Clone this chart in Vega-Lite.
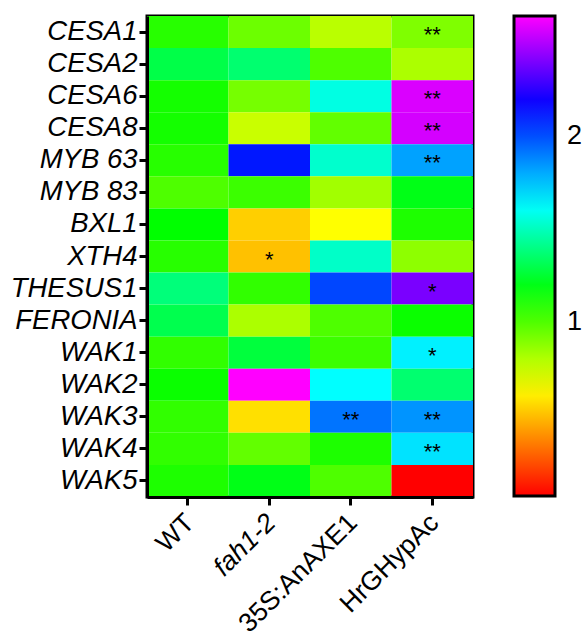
{
  "$schema": "https://vega.github.io/schema/vega-lite/v6.json",
  "width": 326,
  "height": 481,
  "padding": {"left": 10, "top": 15, "right": 0, "bottom": 0},
  "config": {
    "view": {"stroke": "black", "strokeWidth": 3},
    "font": "Liberation Sans"
  },
  "data": {
    "values": [
      {"gene": "CESA1", "line": "WT", "value": 1.08, "sig": ""},
      {"gene": "CESA2", "line": "WT", "value": 1.29, "sig": ""},
      {"gene": "CESA6", "line": "WT", "value": 1.12, "sig": ""},
      {"gene": "CESA8", "line": "WT", "value": 1.12, "sig": ""},
      {"gene": "MYB 63", "line": "WT", "value": 1.08, "sig": ""},
      {"gene": "MYB 83", "line": "WT", "value": 1.0, "sig": ""},
      {"gene": "BXL1", "line": "WT", "value": 1.16, "sig": ""},
      {"gene": "XTH4", "line": "WT", "value": 1.08, "sig": ""},
      {"gene": "THESUS1", "line": "WT", "value": 1.38, "sig": ""},
      {"gene": "FERONIA", "line": "WT", "value": 1.3, "sig": ""},
      {"gene": "WAK1", "line": "WT", "value": 1.06, "sig": ""},
      {"gene": "WAK2", "line": "WT", "value": 1.14, "sig": ""},
      {"gene": "WAK3", "line": "WT", "value": 1.06, "sig": ""},
      {"gene": "WAK4", "line": "WT", "value": 1.06, "sig": ""},
      {"gene": "WAK5", "line": "WT", "value": 1.1, "sig": ""},
      {"gene": "CESA1", "line": "fah1-2", "value": 0.94, "sig": ""},
      {"gene": "CESA2", "line": "fah1-2", "value": 1.36, "sig": ""},
      {"gene": "CESA6", "line": "fah1-2", "value": 0.92, "sig": ""},
      {"gene": "CESA8", "line": "fah1-2", "value": 0.75, "sig": ""},
      {"gene": "MYB 63", "line": "fah1-2", "value": 2.12, "sig": ""},
      {"gene": "MYB 83", "line": "fah1-2", "value": 1.04, "sig": ""},
      {"gene": "BXL1", "line": "fah1-2", "value": 0.53, "sig": ""},
      {"gene": "XTH4", "line": "fah1-2", "value": 0.5, "sig": "*"},
      {"gene": "THESUS1", "line": "fah1-2", "value": 1.06, "sig": ""},
      {"gene": "FERONIA", "line": "fah1-2", "value": 0.81, "sig": ""},
      {"gene": "WAK1", "line": "fah1-2", "value": 1.27, "sig": ""},
      {"gene": "WAK2", "line": "fah1-2", "value": 2.65, "sig": ""},
      {"gene": "WAK3", "line": "fah1-2", "value": 0.57, "sig": ""},
      {"gene": "WAK4", "line": "fah1-2", "value": 0.96, "sig": ""},
      {"gene": "WAK5", "line": "fah1-2", "value": 1.2, "sig": ""},
      {"gene": "CESA1", "line": "35S:AnAXE1", "value": 0.78, "sig": ""},
      {"gene": "CESA2", "line": "35S:AnAXE1", "value": 1.0, "sig": ""},
      {"gene": "CESA6", "line": "35S:AnAXE1", "value": 1.57, "sig": ""},
      {"gene": "CESA8", "line": "35S:AnAXE1", "value": 0.96, "sig": ""},
      {"gene": "MYB 63", "line": "35S:AnAXE1", "value": 1.53, "sig": ""},
      {"gene": "MYB 83", "line": "35S:AnAXE1", "value": 0.83, "sig": ""},
      {"gene": "BXL1", "line": "35S:AnAXE1", "value": 0.64, "sig": ""},
      {"gene": "XTH4", "line": "35S:AnAXE1", "value": 1.52, "sig": ""},
      {"gene": "THESUS1", "line": "35S:AnAXE1", "value": 2.02, "sig": ""},
      {"gene": "FERONIA", "line": "35S:AnAXE1", "value": 1.0, "sig": ""},
      {"gene": "WAK1", "line": "35S:AnAXE1", "value": 1.04, "sig": ""},
      {"gene": "WAK2", "line": "35S:AnAXE1", "value": 1.62, "sig": ""},
      {"gene": "WAK3", "line": "35S:AnAXE1", "value": 1.92, "sig": "**"},
      {"gene": "WAK4", "line": "35S:AnAXE1", "value": 1.1, "sig": ""},
      {"gene": "WAK5", "line": "35S:AnAXE1", "value": 1.0, "sig": ""},
      {"gene": "CESA1", "line": "HrGHypAc", "value": 0.9, "sig": "**"},
      {"gene": "CESA2", "line": "HrGHypAc", "value": 0.81, "sig": ""},
      {"gene": "CESA6", "line": "HrGHypAc", "value": 2.58, "sig": "**"},
      {"gene": "CESA8", "line": "HrGHypAc", "value": 2.57, "sig": "**"},
      {"gene": "MYB 63", "line": "HrGHypAc", "value": 1.82, "sig": "**"},
      {"gene": "MYB 83", "line": "HrGHypAc", "value": 1.2, "sig": ""},
      {"gene": "BXL1", "line": "HrGHypAc", "value": 1.1, "sig": ""},
      {"gene": "XTH4", "line": "HrGHypAc", "value": 0.87, "sig": ""},
      {"gene": "THESUS1", "line": "HrGHypAc", "value": 2.4, "sig": "*"},
      {"gene": "FERONIA", "line": "HrGHypAc", "value": 1.14, "sig": ""},
      {"gene": "WAK1", "line": "HrGHypAc", "value": 1.65, "sig": "*"},
      {"gene": "WAK2", "line": "HrGHypAc", "value": 1.36, "sig": ""},
      {"gene": "WAK3", "line": "HrGHypAc", "value": 1.85, "sig": "**"},
      {"gene": "WAK4", "line": "HrGHypAc", "value": 1.68, "sig": "**"},
      {"gene": "WAK5", "line": "HrGHypAc", "value": 0.06, "sig": ""}
    ]
  },
  "encoding": {
    "x": {
      "field": "line", "type": "nominal",
      "sort": ["WT", "fah1-2", "35S:AnAXE1", "HrGHypAc"],
      "scale": {"paddingInner": 0, "paddingOuter": 0},
      "axis": {
        "title": null, "labelAngle": -45, "labelFontSize": 26.5, "labelColor": "black",
        "labelFontStyle": {"expr": "datum.value == 'fah1-2' ? 'italic' : 'normal'"},
        "domainColor": "black", "domainWidth": 3, "tickColor": "black", "tickWidth": 3, "tickSize": 8,
        "labelPadding": 4, "labelOffset": -7
      }
    },
    "y": {
      "field": "gene", "type": "nominal",
      "sort": ["CESA1", "CESA2", "CESA6", "CESA8", "MYB 63", "MYB 83", "BXL1", "XTH4", "THESUS1", "FERONIA", "WAK1", "WAK2", "WAK3", "WAK4", "WAK5"],
      "scale": {"paddingInner": 0, "paddingOuter": 0},
      "axis": {
        "title": null, "labelFontSize": 27.5, "labelFontStyle": "italic", "labelColor": "black",
        "domainColor": "black", "domainWidth": 3, "tickColor": "black", "tickWidth": 3, "tickSize": 8,
        "labelPadding": 2
      }
    }
  },
  "layer": [
    {
      "mark": {"type": "rect"},
      "encoding": {
        "color": {
          "field": "value", "type": "quantitative",
          "scale": {
            "domain": [0.06, 0.64, 1.16, 1.62, 2.17, 2.65],
            "range": ["#ff0000", "#ffff00", "#00ff00", "#00ffff", "#0000ff", "#ff00ff"],
            "interpolate": "rgb"
          },
          "legend": {
            "title": null, "orient": "right", "offset": 41,
            "gradientLength": 480, "gradientThickness": 41,
            "gradientStrokeColor": "black", "gradientStrokeWidth": 3,
            "values": [1, 2], "format": "d", "labelFontSize": 27, "labelColor": "black", "labelOffset": 12
          }
        }
      }
    },
    {
      "transform": [{"filter": "datum.sig != ''"}],
      "mark": {"type": "text", "fontSize": 22, "color": "black", "baseline": "alphabetic", "dy": 10},
      "encoding": {"text": {"field": "sig"}}
    }
  ]
}
